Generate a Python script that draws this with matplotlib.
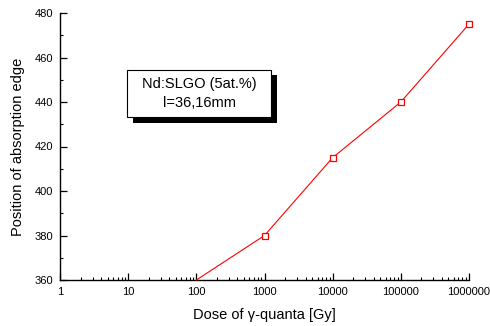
import numpy as np
import matplotlib.pyplot as plt
import matplotlib.patheffects as pe
from matplotlib.patches import Rectangle
from matplotlib.ticker import LogLocator, FixedLocator, NullFormatter, MultipleLocator

plt.rcParams['font.family'] = ['Liberation Sans', 'DejaVu Sans']

# datos
dosis = [100, 1000, 10000, 100000, 1000000]
borde = [360, 380, 415, 440, 475]
xticks = [1, 10, 100, 1000, 10000, 100000, 1000000]
xlabels = ['1', '10', '100', '1000', '10000', '100000', '1000000']
yticks = [360, 380, 400, 420, 440, 460, 480]

fig = plt.figure(figsize=(4.9, 3.26), dpi=100)
ax = fig.add_axes([60/490, 46/326, 409/490, 267/326])

ax.plot(dosis, borde, color='red', lw=0.8, marker='s', ms=5,
        mfc='white', mec='red', mew=0.9, markevery=[1, 2, 3, 4],
        clip_on=False, zorder=3)

ax.set_xscale('log')
ax.set_xlim(1, 1000000)
ax.set_ylim(360, 480)
ax.xaxis.set_major_locator(FixedLocator(xticks))
ax.set_xticklabels(xlabels)
ax.xaxis.set_minor_locator(LogLocator(base=10, subs=np.arange(2, 10)))
ax.xaxis.set_minor_formatter(NullFormatter())
ax.set_yticks(yticks)
ax.yaxis.set_minor_locator(MultipleLocator(10))

for s in ['top', 'right']:
    ax.spines[s].set_visible(False)
for s in ['left', 'bottom']:
    ax.spines[s].set_linewidth(1.0)

ax.tick_params(which='major', direction='in', length=5, width=0.9, labelsize=8, pad=5)
ax.tick_params(which='minor', direction='in', length=2.5, width=0.8)

ax.set_xlabel('Dose of γ-quanta [Gy]', fontsize=10.5, labelpad=8)
ax.set_ylabel('Position of absorption edge', fontsize=10.5, labelpad=7)

# cuadro con sombra
caja = Rectangle((0.164, 0.610), 0.352, 0.177, transform=ax.transAxes,
                 fc='white', ec='black', lw=0.8, zorder=4,
                 path_effects=[pe.withSimplePatchShadow(offset=(4, -4), shadow_rgbFace='black', alpha=1)])
ax.add_patch(caja)
ax.text(0.340, 0.698, 'Nd:SLGO (5at.%)\nl=36,16mm', transform=ax.transAxes,
        ha='center', va='center', fontsize=10.5, linespacing=1.4, zorder=5)

fig.savefig('out.png', dpi=100)
